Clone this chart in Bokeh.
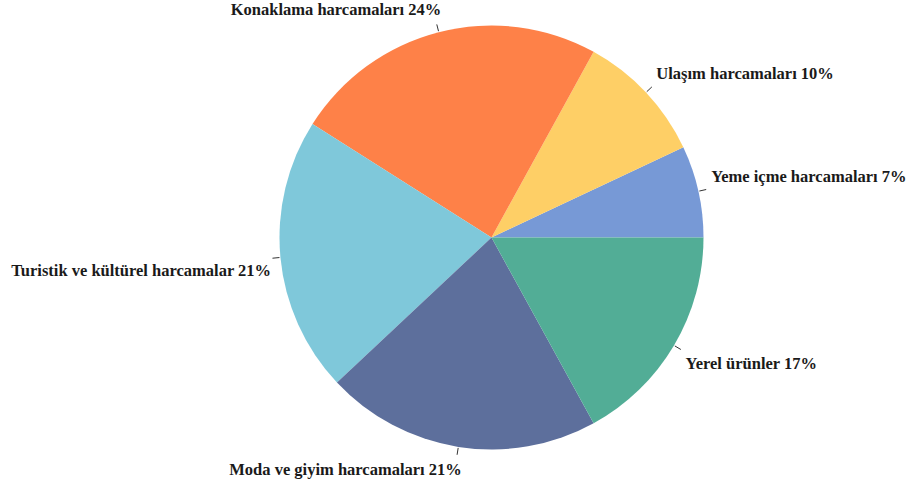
import math
from bokeh.plotting import figure
from bokeh.models import Range1d, ColumnDataSource
from bokeh.core.properties import value
from bokeh.embed import file_html
from bokeh.resources import INLINE

# ---- data ----
categories = ["Yeme içme harcamaları", "Ulaşım harcamaları", "Konaklama harcamaları",
              "Turistik ve kültürel harcamalar", "Moda ve giyim harcamaları", "Yerel ürünler"]
shares = [7, 10, 24, 21, 21, 17]
label_sep = ["  ", "  ", " ", "  ", " ", "  "]

# ---- style ----
colors = ["#7799d6", "#fecf66", "#fe8148", "#7fc8da", "#5d6f9c", "#52ad96"]
W, H = 920, 481
cx, cy, r = 491, 244, 212

p = figure(width=W, height=H, output_backend="svg", toolbar_location=None,
           x_range=Range1d(0, W), y_range=Range1d(0, H), min_border=0)
p.axis.visible = False
p.grid.visible = False
p.outline_line_color = None
p.background_fill_color = "white"
p.border_fill_color = "white"

total = sum(shares)
starts, ends, mids = [], [], []
acc = 0.0
for s in shares:
    a0 = acc / total * 2 * math.pi
    acc += s
    a1 = acc / total * 2 * math.pi
    starts.append(a0)
    ends.append(a1)
    mids.append((a0 + a1) / 2)

src = ColumnDataSource(dict(start=starts, end=ends, color=colors))
p.wedge(x=cx, y=cy, radius=r, start_angle="start", end_angle="end",
        fill_color="color", line_color=None, source=src)

# leader ticks and labels
x0s, y0s, x1s, y1s = [], [], [], []
lx, ly, la, lb, texts = [], [], [], [], []
for i, m in enumerate(mids):
    c, s = math.cos(m), math.sin(m)
    x0s.append(cx + (r + 1) * c); y0s.append(cy + (r + 1) * s)
    x1s.append(cx + (r + 8) * c); y1s.append(cy + (r + 8) * s)
    ex, ey = cx + (r + 10) * c, cy + (r + 10) * s
    if c >= 0:
        la.append("left"); lx.append(ex + 3)
    else:
        la.append("right"); lx.append(ex + 5)
    if s >= 0:
        lb.append("bottom"); ly.append(ey + 3)
    else:
        lb.append("top"); ly.append(ey - 3)
    texts.append(f"{categories[i]}{label_sep[i]}{shares[i]}%")

p.segment(x0=x0s, y0=y0s, x1=x1s, y1=y1s, line_color="#333333", line_width=1)
lsrc = ColumnDataSource(dict(x=lx, y=ly, text=texts, align=la, base=lb))
p.text(x="x", y="y", text="text", text_align="align", text_baseline="base",
       text_font=value("Liberation Serif"), text_font_style="bold",
       text_font_size="16.5px", text_color="#1a1a1a", source=lsrc)

open("out.html", "w").write(file_html(p, INLINE))
